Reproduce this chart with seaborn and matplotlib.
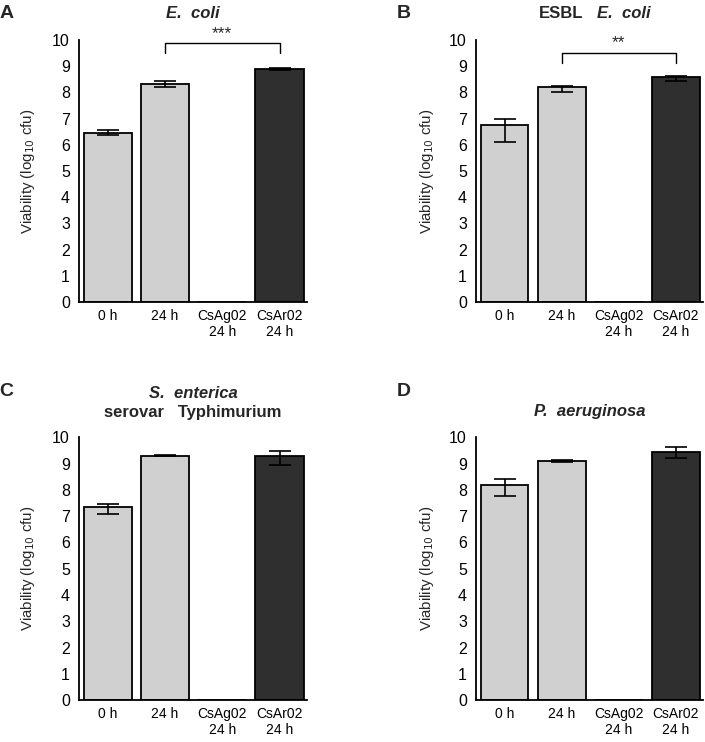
import pandas as pd
import matplotlib
matplotlib.use('Agg')
import matplotlib.pyplot as plt
import seaborn as sns

# group labels shared by all panels
groups = ['0 h', '24 h', 'CsAg02\n24 h', 'CsAr02\n24 h']
bar_colors = ['#d0d0d0', '#d0d0d0', '#d0d0d0', '#2f2f2f']

# mean viability (log10 cfu) and error bar ends, per panel
ecoli_mean = [6.45, 8.32, 0.0, 8.88]
ecoli_lo = [6.38, 8.20, 0.0, 8.85]
ecoli_hi = [6.55, 8.43, 0.0, 8.92]

esbl_mean = [6.75, 8.20, 0.0, 8.57]
esbl_lo = [6.10, 8.00, 0.0, 8.45]
esbl_hi = [7.00, 8.25, 0.0, 8.61]

sent_mean = [7.35, 9.30, 0.0, 9.30]
sent_lo = [7.10, 9.27, 0.0, 8.93]
sent_hi = [7.47, 9.33, 0.0, 9.47]

paer_mean = [8.18, 9.08, 0.0, 9.45]
paer_lo = [7.75, 9.05, 0.0, 9.22]
paer_hi = [8.42, 9.12, 0.0, 9.63]

# significance brackets: (from group, to group, label)
ecoli_sig = (1, 3, '***')
esbl_sig = (1, 3, '**')

yticks = list(range(0, 11))


def panel(ax, mean, lo, hi, letter, sig=None, ylab_x=-0.22, letter_y=1.084):
    df = pd.DataFrame({'group': groups, 'value': mean})
    sns.barplot(data=df, x='group', y='value', hue='group', palette=bar_colors,
                order=groups, hue_order=groups, legend=False, errorbar=None,
                width=0.84, edgecolor='black', linewidth=1.3, ax=ax)
    xs = [i for i, m in enumerate(mean) if m > 0]
    ax.errorbar(xs, [mean[i] for i in xs],
                yerr=[[mean[i] - lo[i] for i in xs], [hi[i] - mean[i] for i in xs]],
                fmt='none', ecolor='black', elinewidth=1.2, capsize=8, capthick=1.2, zorder=5)
    ax.set_ylim(0, 10)
    ax.set_xlim(-0.5, 3.48)
    ax.set_yticks(yticks)
    ax.set_xlabel('')
    ax.set_ylabel('Viability (log$_{10}$ cfu)', fontsize=10.8)
    ax.yaxis.set_label_coords(ylab_x, 0.5)
    sns.despine(ax=ax)
    for s in ['left', 'bottom']:
        ax.spines[s].set_linewidth(1.3)
        ax.spines[s].set_color('black')
    ax.tick_params(axis='y', length=3.5, width=1, labelsize=11.5, pad=3, colors='black')
    ax.tick_params(axis='x', length=0, labelsize=10, pad=5, colors='black')
    ax.text(-0.348, letter_y, letter, transform=ax.transAxes,
            fontsize=14, fontweight='bold', ha='left', va='baseline')
    if sig is not None:
        a, b, lab, ytop, ybot = sig
        ax.plot([a, a, b, b], [ybot, ytop, ytop, ybot], color='black', lw=1, clip_on=False)
        ax.text((a + b) / 2, ytop + 0.08, lab, ha='center', va='bottom', fontsize=12.5)


sns.set_style('white')
plt.rcParams['font.family'] = ['Liberation Sans', 'DejaVu Sans']

fig = plt.figure(figsize=(7.05, 7.42), dpi=100)
axA = fig.add_axes([79 / 705, 440 / 742, 228 / 705, 262 / 742])
axB = fig.add_axes([476 / 705, 440 / 742, 227 / 705, 262 / 742])
axC = fig.add_axes([79 / 705, 41.7 / 742, 228 / 705, 263 / 742])
axD = fig.add_axes([476 / 705, 41.7 / 742, 227 / 705, 263 / 742])

panel(axA, ecoli_mean, ecoli_lo, ecoli_hi, 'A', sig=(ecoli_sig[0], ecoli_sig[1], ecoli_sig[2], 9.87, 9.5),
      ylab_x=-0.184, letter_y=1.084)
panel(axB, esbl_mean, esbl_lo, esbl_hi, 'B', sig=(esbl_sig[0], esbl_sig[1], esbl_sig[2], 9.52, 9.14),
      ylab_x=-0.176, letter_y=1.084)
panel(axC, sent_mean, sent_lo, sent_hi, 'C', ylab_x=-0.184, letter_y=1.156)
panel(axD, paer_mean, paer_lo, paer_hi, 'D', ylab_x=-0.176, letter_y=1.156)

tfs = 12
axA.text(0.5, 1.084, 'E.  coli', transform=axA.transAxes, ha='center', va='baseline',
         fontsize=tfs, fontweight='bold', style='italic')
axB.text(0.471, 1.084, 'ESBL', transform=axB.transAxes, ha='right', va='baseline',
         fontsize=tfs, fontweight='bold')
axB.text(0.533, 1.084, 'E.  coli', transform=axB.transAxes, ha='left', va='baseline',
         fontsize=tfs, fontweight='bold', style='italic')
axC.text(0.5, 1.149, 'S.  enterica', transform=axC.transAxes, ha='center', va='baseline',
         fontsize=tfs, fontweight='bold', style='italic')
axC.text(0.5, 1.077, 'serovar   Typhimurium', transform=axC.transAxes, ha='center', va='baseline',
         fontsize=tfs, fontweight='bold')
axD.text(0.5, 1.08, 'P.  aeruginosa', transform=axD.transAxes, ha='center', va='baseline',
         fontsize=tfs, fontweight='bold', style='italic')

fig.savefig('out.png', dpi=100)
